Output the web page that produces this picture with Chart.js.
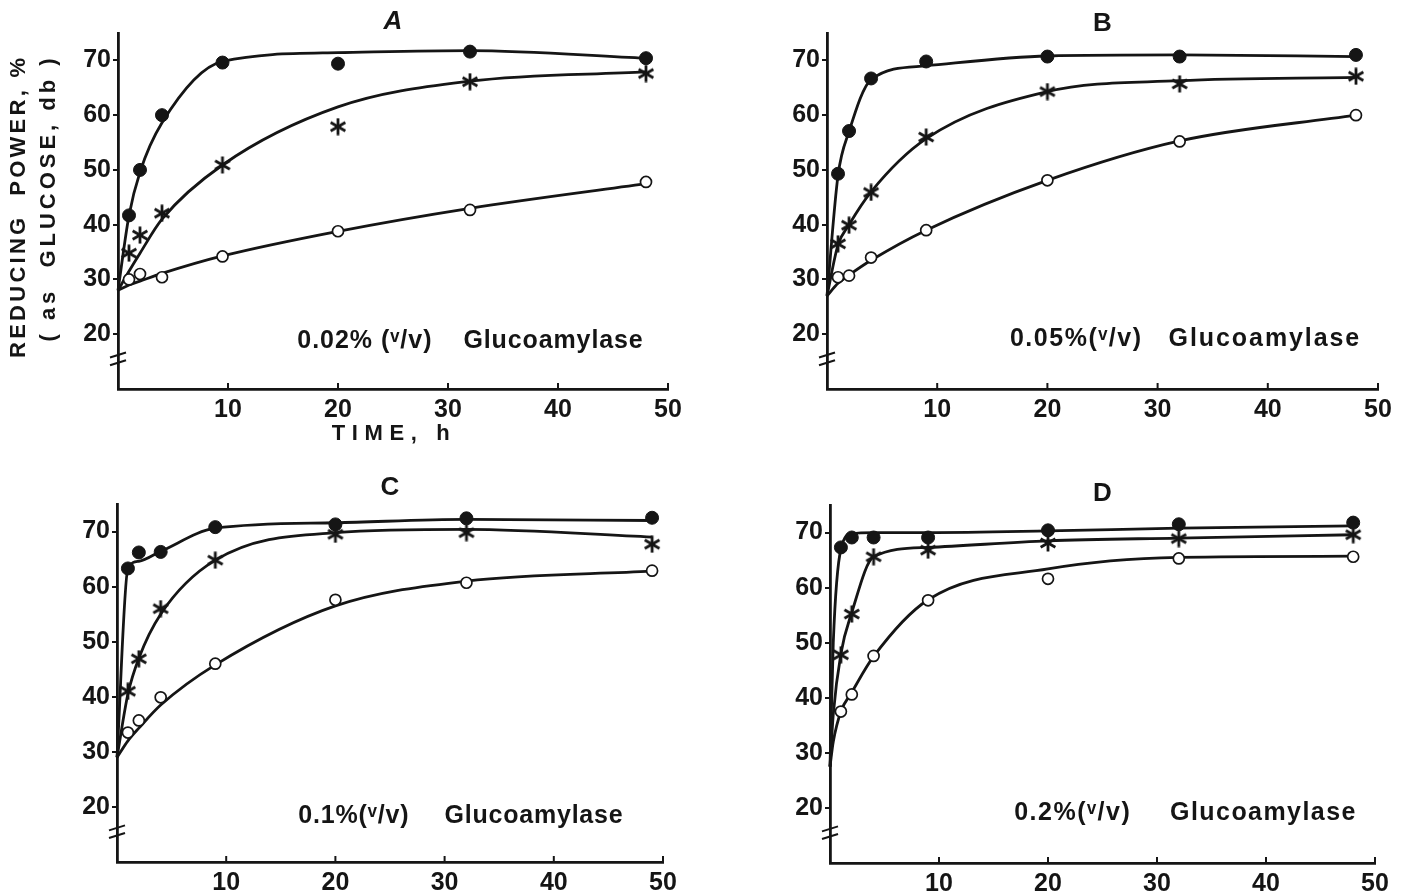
<!DOCTYPE html>
<html>
<head>
<meta charset="utf-8">
<script src="https://cdn.jsdelivr.net/npm/chart.js@4.4.1/dist/chart.umd.min.js"></script>
<style>
  html, body { margin: 0; padding: 0; background: #fff; }
  #wrap { position: relative; width: 1405px; height: 893px; overflow: hidden; background: #fff; }
  #wrap canvas { position: absolute; }
</style>
</head>
<body>
<div id="wrap">
  <canvas id="chartA" width="700" height="446" style="left:0;top:0"></canvas>
  <canvas id="chartB" width="705" height="446" style="left:700px;top:0"></canvas>
  <canvas id="chartC" width="700" height="447" style="left:0;top:446px"></canvas>
  <canvas id="chartD" width="705" height="447" style="left:700px;top:446px"></canvas>
</div>
<script>
// ---- data (reducing power %) ----
const xTickValues = [10, 20, 30, 40, 50];
const yTickValues = [20, 30, 40, 50, 60, 70];

// A: 0.02% glucoamylase
const timesA  = [1, 2, 4, 9.5, 20, 32, 48];
const filledA = [41.7, 50.0, 60.0, 69.6, 69.4, 71.6, 70.4];
const starA   = [34.8, 38.1, 42.1, 50.9, 57.9, 66.1, 67.6];
const openA   = [30.0, 31.0, 30.4, 34.2, 38.8, 42.7, 47.8];
const fitTimesA  = [0, 1, 2, 4, 9.5, 20, 32, 48];
const fitFilledA = [28, 41.7, 49.6, 58.6, 69.8, 71.4, 71.8, 70.4];
const fitStarA   = [28, 31.5, 34.8, 41.0, 50.9, 61.5, 66.2, 67.9];
const fitOpenA   = [28, 29.0, 29.7, 31.1, 34.3, 38.8, 43.0, 47.5];

// B: 0.05% glucoamylase
const timesB  = [1, 2, 4, 9, 20, 32, 48];
const filledB = [49.3, 57.1, 66.7, 69.8, 70.7, 70.7, 71.0];
const starB   = [36.5, 39.9, 45.9, 56.0, 64.3, 65.7, 67.1];
const openB   = [30.4, 30.7, 34.0, 39.0, 48.1, 55.2, 60.0];
const fitTimesB  = [0, 1, 2, 4, 9, 20, 32, 48];
const fitFilledB = [27, 49.0, 57.0, 66.5, 69.0, 70.8, 71.0, 70.7];
const fitStarB   = [27, 36.3, 40.0, 46.0, 55.7, 64.3, 66.3, 66.9];
const fitOpenB   = [27, 29.3, 30.8, 33.5, 39.0, 48.1, 55.3, 60.0];

// C: 0.1% glucoamylase
const timesC  = [1, 2, 4, 9, 20, 32, 49];
const filledC = [63.3, 66.2, 66.3, 70.8, 71.3, 72.4, 72.5];
const starC   = [41.0, 46.9, 56.0, 64.8, 69.5, 69.8, 67.7];
const openC   = [33.5, 35.7, 39.9, 46.0, 57.6, 60.7, 62.9];
const fitTimesC  = [0, 1, 2, 4, 9, 20, 32, 49];
const fitFilledC = [29, 63.3, 64.6, 66.4, 70.6, 71.6, 72.2, 72.0];
const fitStarC   = [29, 40.5, 47.0, 55.0, 64.8, 69.8, 70.4, 69.0];
const fitOpenC   = [29, 32.0, 34.3, 38.5, 45.8, 56.5, 61.0, 62.8];

// D: 0.2% glucoamylase
const timesD  = [1, 2, 4, 9, 20, 32, 48];
const filledD = [67.3, 69.1, 69.1, 69.1, 70.4, 71.5, 71.8];
const starD   = [47.8, 55.2, 65.6, 66.8, 68.1, 68.9, 69.6];
const openD   = [37.5, 40.6, 47.6, 57.7, 61.6, 65.3, 65.6];
const fitTimesD  = [0, 0.3, 1, 2, 4, 9, 20, 32, 48];
const fitFilledD = [27.5, 50, 67.0, 69.8, 70.0, 70.0, 70.3, 70.8, 71.2];
const fitStarD   = [27.5, 37, 48.0, 55.5, 65.6, 67.3, 68.5, 69.0, 69.6];
const fitOpenD   = [27.5, 32, 37.5, 41.0, 47.5, 57.8, 63.4, 65.5, 65.7];

const INK = '#151515';
const FONT = '"Liberation Sans", Arial, sans-serif';
const SYM_FONT = '"DejaVu Sans", sans-serif';

function pts(xs, ys) {
  return xs.map((x, i) => ({ x: x, y: ys[i] }));
}

// six-armed asterisk marker
function makeAsterisk(size, lw) {
  const c = document.createElement('canvas');
  c.width = c.height = size;
  const g = c.getContext('2d');
  g.strokeStyle = INK;
  g.lineWidth = lw;
  const r = size / 2 - 0.5;
  for (let k = 0; k < 3; k++) {
    const a = Math.PI / 2 + k * Math.PI / 3;
    g.beginPath();
    g.moveTo(size / 2 + r * Math.cos(a), size / 2 + r * Math.sin(a));
    g.lineTo(size / 2 - r * Math.cos(a), size / 2 - r * Math.sin(a));
    g.stroke();
  }
  return c;
}
const asterisk = makeAsterisk(18, 2.8);

// draw text spread to a given width (letter spaced like the print)
function spreadText(ctx, text, cx, cy, width) {
  const chars = Array.from(text);
  const ws = chars.map(ch => ctx.measureText(ch).width);
  const total = ws.reduce((a, b) => a + b, 0);
  const gap = chars.length > 1 ? (width - total) / (chars.length - 1) : 0;
  let x = cx - width / 2;
  ctx.textAlign = 'left';
  ctx.textBaseline = 'middle';
  chars.forEach((ch, i) => {
    ctx.fillText(ch, x, cy);
    x += ws[i] + gap;
  });
}

// axis break, inward x ticks, titles and the enzyme label
const panelDecor = {
  id: 'panelDecor',
  afterDraw(chart, args, o) {
    const ctx = chart.ctx;
    const xs = chart.scales.x, ys = chart.scales.y;
    const area = chart.chartArea;
    ctx.save();
    ctx.strokeStyle = INK;
    ctx.fillStyle = INK;
    ctx.lineWidth = 2;

    xTickValues.forEach(v => {
      const px = xs.getPixelForValue(v);
      ctx.beginPath();
      ctx.moveTo(px, area.bottom);
      ctx.lineTo(px, area.bottom - 6);
      ctx.stroke();
    });

    // break marks on the y axis
    [16.2, 14.8].forEach(v => {
      const py = ys.getPixelForValue(v);
      ctx.beginPath();
      ctx.moveTo(area.left - 8, py + 2.5);
      ctx.lineTo(area.left + 8, py - 2.5);
      ctx.stroke();
    });

    // panel letter
    ctx.font = o.titleFont;
    ctx.textAlign = 'center';
    ctx.textBaseline = 'middle';
    ctx.fillText(o.title, xs.getPixelForValue(25), o.titleY);

    // enzyme label
    const ly = ys.getPixelForValue(o.labelY);
    const l1 = xs.getPixelForValue(o.label1[0]), r1 = xs.getPixelForValue(o.label1[1]);
    const l2 = xs.getPixelForValue(o.label2[0]), r2 = xs.getPixelForValue(o.label2[1]);
    ctx.font = 'bold 25px ' + FONT + ', ' + SYM_FONT;
    spreadText(ctx, o.dose, (l1 + r1) / 2, ly, r1 - l1);
    spreadText(ctx, 'Glucoamylase', (l2 + r2) / 2, ly, r2 - l2);

    if (o.axisTitles) {
      ctx.font = 'bold 22px ' + FONT;
      spreadText(ctx, 'TIME, h', xs.getPixelForValue(24.8), 434, 118);
      ctx.save();
      ctx.translate(19, 208);
      ctx.rotate(-Math.PI / 2);
      spreadText(ctx, 'REDUCING  POWER, %', 0, 0, 300);
      ctx.restore();
      ctx.save();
      ctx.translate(49, 200);
      ctx.rotate(-Math.PI / 2);
      spreadText(ctx, '( as  GLUCOSE, db )', 0, 0, 283);
      ctx.restore();
    }
    ctx.restore();
  }
};

function makePanel(id, d, lay) {
  const curve = (xs, ys) => ({
    data: pts(xs, ys),
    showLine: true,
    pointRadius: 0,
    borderColor: INK,
    borderWidth: 2.8,
    cubicInterpolationMode: 'monotone',
    order: 2
  });
  new Chart(document.getElementById(id), {
    type: 'scatter',
    data: {
      datasets: [
        curve(d.fitT, d.fitFilled),
        curve(d.fitT, d.fitStar),
        curve(d.fitT, d.fitOpen),
        { data: pts(d.t, d.filled), pointStyle: 'circle', pointRadius: 6.5,
          backgroundColor: INK, borderColor: INK, borderWidth: 1, order: 1 },
        { data: pts(d.t, d.star), pointStyle: asterisk, pointRadius: 9, order: 1 },
        { data: pts(d.t, d.open), pointStyle: 'circle', pointRadius: 5.5,
          backgroundColor: '#fff', borderColor: INK, borderWidth: 1.7, order: 1 }
      ]
    },
    options: {
      responsive: false,
      animation: false,
      events: [],
      clip: false,
      layout: { padding: { top: lay.top, right: lay.right, bottom: 0, left: 0 } },
      plugins: {
        legend: { display: false },
        tooltip: { enabled: false },
        panelDecor: lay.decor
      },
      scales: {
        x: {
          type: 'linear', min: 0, max: 50,
          afterBuildTicks: s => { s.ticks = xTickValues.map(v => ({ value: v })); },
          afterFit: s => { s.height = lay.xHeight; },
          grid: { display: false, drawTicks: false },
          border: { display: true, color: INK, width: 2.8 },
          ticks: { color: INK, padding: 6, maxRotation: 0,
                   font: { family: FONT, size: 25, weight: 'bold' } }
        },
        y: {
          type: 'linear', min: 10, max: 75,
          afterBuildTicks: s => { s.ticks = yTickValues.map(v => ({ value: v })); },
          afterFit: s => { s.width = lay.yWidth; },
          grid: { display: true, drawOnChartArea: false, drawTicks: true, tickLength: 5,
                  color: INK, lineWidth: 2 },
          border: { display: true, color: INK, width: 2.8 },
          ticks: { color: INK, padding: 2,
                   font: { family: FONT, size: 25, weight: 'bold' } }
        }
      }
    },
    plugins: [panelDecor]
  });
}

makePanel('chartA',
  { t: timesA, filled: filledA, star: starA, open: openA,
    fitT: fitTimesA, fitFilled: fitFilledA, fitStar: fitStarA, fitOpen: fitOpenA },
  { top: 33, right: 32, xHeight: 57, yWidth: 118,
    decor: { title: 'A', titleFont: 'italic bold 26px ' + FONT, titleY: 22,
             dose: '0.02% (ᵛ/v)', label1: [16.3, 28.5], label2: [31.4, 47.7], labelY: 18.7,
             axisTitles: true } });

makePanel('chartB',
  { t: timesB, filled: filledB, star: starB, open: openB,
    fitT: fitTimesB, fitFilled: fitFilledB, fitStar: fitStarB, fitOpen: fitOpenB },
  { top: 33, right: 27, xHeight: 57, yWidth: 127,
    decor: { title: 'B', titleFont: 'bold 26px ' + FONT, titleY: 24,
             dose: '0.05%(ᵛ/v)', label1: [16.6, 28.5], label2: [31.0, 48.3], labelY: 19.2 } });

makePanel('chartC',
  { t: timesC, filled: filledC, star: starC, open: openC,
    fitT: fitTimesC, fitFilled: fitFilledC, fitStar: fitStarC, fitOpen: fitOpenC },
  { top: 58, right: 37, xHeight: 31, yWidth: 117,
    decor: { title: 'C', titleFont: 'bold 26px ' + FONT, titleY: 42,
             dose: '0.1%(ᵛ/v)', label1: [16.6, 26.7], label2: [30.0, 46.3], labelY: 18.4 } });

makePanel('chartD',
  { t: timesD, filled: filledD, star: starD, open: openD,
    fitT: fitTimesD, fitFilled: fitFilledD, fitStar: fitStarD, fitOpen: fitOpenD },
  { top: 59, right: 30, xHeight: 30, yWidth: 130,
    decor: { title: 'D', titleFont: 'bold 26px ' + FONT, titleY: 48,
             dose: '0.2%(ᵛ/v)', label1: [16.9, 27.5], label2: [31.2, 48.2], labelY: 19.0 } });
</script>
</body>
</html>
